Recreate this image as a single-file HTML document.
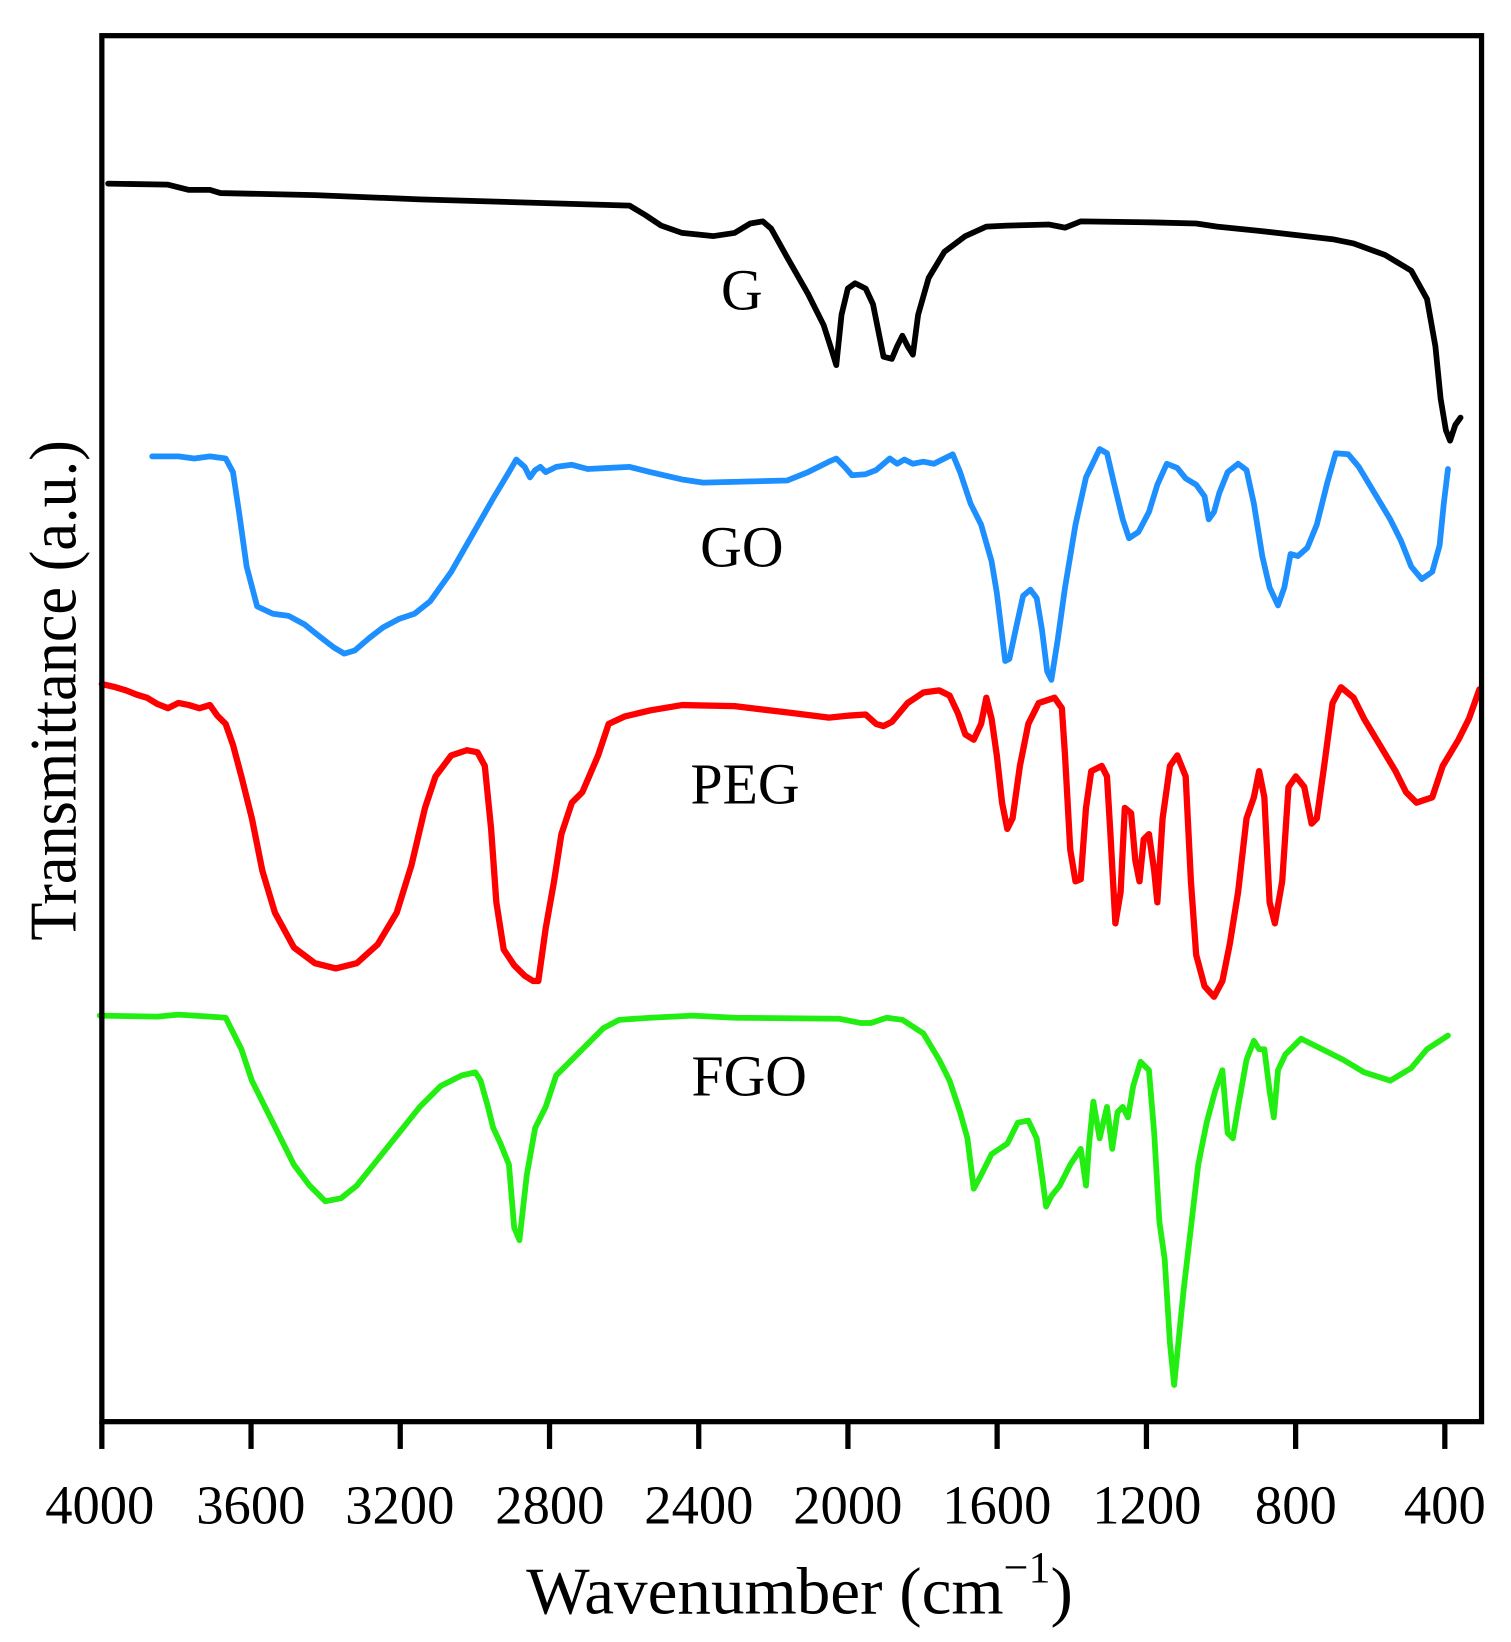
<!DOCTYPE html>
<html><head><meta charset="utf-8"><style>html,body{margin:0;padding:0;background:#fff}svg{display:block}</style></head>
<body>
<svg width="1511" height="1642" viewBox="0 0 1440 1565" xmlns="http://www.w3.org/2000/svg" font-family="'Liberation Serif', serif">
<rect x="0" y="0" width="1440" height="1565" fill="#fff"/>
<g fill="none" stroke-linejoin="round" stroke-linecap="round" stroke-width="5.5">
<polyline stroke="#000" points="103,175 160,176 180,181 200,181 210,184 300,186 400,190 500,193 600,196 615,205 630,215 650,222 680,225 700,222 715,213 727,211 735,218 750,245 770,280 785,310 793,335 797,348 802,300 808,275 815,270 825,275 832,290 838,320 842,340 850,342 855,330 860,320 865,330 870,338 875,300 885,265 900,240 920,225 940,216 960,215 1000,214 1010,216 1015,217 1030,211 1100,212 1140,213 1160,216 1200,220 1270,228 1290,232 1320,243 1345,258 1360,285 1368,330 1373,380 1378,410 1382,420 1387,405 1392,398"/>
<polyline stroke="#1e8fff" points="145,435 170,435 185,437 200,435 215,437 222,450 228,490 235,540 245,578 260,585 275,587 290,595 305,607 318,617 328,623 338,620 352,608 365,598 380,590 395,585 410,573 430,545 450,510 470,475 485,450 492,438 500,445 505,455 510,448 515,445 520,450 530,445 545,443 560,447 580,446 600,445 620,450 650,457 670,460 750,458 770,450 790,440 797,437 805,445 812,453 825,452 835,448 848,437 855,442 862,438 870,442 880,440 890,442 900,437 908,433 915,450 925,480 935,500 945,535 950,565 958,630 962,628 968,600 975,568 982,562 988,570 993,600 998,640 1002,648 1008,610 1015,560 1025,500 1035,455 1048,428 1055,432 1062,462 1070,495 1076,513 1085,507 1095,488 1103,462 1112,442 1122,446 1130,456 1140,462 1148,473 1152,495 1157,488 1162,470 1170,450 1180,442 1188,448 1195,480 1203,530 1210,560 1218,577 1224,560 1230,528 1237,530 1246,522 1255,500 1265,460 1273,432 1285,433 1295,445 1310,470 1325,495 1335,515 1345,540 1355,552 1365,545 1372,520 1376,480 1380,447"/>
<polyline stroke="#ff0000" stroke-width="6" points="97,652 110,655 120,658 130,662 140,665 150,671 160,675 170,670 180,672 190,675 200,672 207,682 215,690 222,710 230,740 240,780 250,830 262,870 280,903 300,918 320,923 340,918 360,900 378,870 392,825 405,770 415,740 430,720 445,715 455,717 462,730 468,790 473,860 480,905 490,920 500,930 508,935 513,935 520,885 528,840 535,795 545,765 555,755 570,720 580,690 595,683 620,677 650,672 700,673 750,679 790,684 810,682 825,681 835,690 842,692 850,688 865,670 880,660 895,658 905,663 913,680 920,700 928,705 935,690 940,665 945,685 950,720 955,765 960,790 965,780 972,730 980,690 990,670 1005,665 1012,675 1015,720 1020,810 1025,840 1030,838 1035,770 1040,735 1050,730 1055,740 1058,790 1063,880 1068,850 1072,770 1078,775 1082,820 1086,840 1090,800 1095,795 1100,830 1103,860 1108,780 1115,730 1122,720 1130,740 1135,840 1140,910 1148,940 1157,950 1165,935 1172,900 1180,850 1188,780 1195,760 1200,735 1205,760 1210,860 1215,880 1222,840 1228,750 1235,740 1243,750 1250,785 1255,780 1262,730 1270,670 1278,655 1290,665 1300,685 1315,710 1330,735 1340,755 1350,765 1365,760 1375,730 1390,705 1400,685 1410,657"/>
<polyline stroke="#22ee11" points="95,968 150,969 170,967 200,969 215,970 220,980 230,1000 240,1030 250,1050 265,1080 280,1110 295,1130 310,1145 325,1142 340,1130 360,1105 380,1080 400,1055 420,1035 440,1025 453,1022 458,1030 465,1055 470,1075 477,1090 485,1110 490,1170 495,1182 502,1120 510,1075 520,1055 530,1025 545,1010 560,995 575,980 590,972 620,970 660,968 700,970 800,971 820,975 830,975 845,970 860,972 880,985 895,1010 905,1030 915,1060 922,1085 928,1133 935,1120 945,1100 960,1090 970,1070 980,1068 988,1085 993,1120 997,1150 1002,1140 1010,1130 1020,1110 1030,1095 1035,1130 1038,1090 1042,1050 1048,1085 1055,1055 1060,1095 1065,1060 1070,1055 1075,1065 1080,1035 1087,1012 1095,1020 1100,1080 1105,1165 1110,1200 1115,1280 1119,1320 1123,1280 1128,1230 1135,1170 1142,1110 1150,1070 1158,1040 1165,1020 1170,1080 1175,1085 1180,1055 1188,1010 1195,992 1200,1000 1205,1000 1210,1040 1214,1065 1218,1020 1225,1005 1240,990 1260,1000 1280,1010 1300,1022 1325,1030 1345,1018 1360,1000 1380,987"/>
</g>
<g stroke="#000" stroke-width="5" fill="none">
<rect x="97" y="34" width="1315" height="1321"/>
<line x1="97" y1="1355" x2="97" y2="1381"/>
<line x1="239.2" y1="1355" x2="239.2" y2="1381"/>
<line x1="381.4" y1="1355" x2="381.4" y2="1381"/>
<line x1="523.7" y1="1355" x2="523.7" y2="1381"/>
<line x1="665.9" y1="1355" x2="665.9" y2="1381"/>
<line x1="808.1" y1="1355" x2="808.1" y2="1381"/>
<line x1="950.3" y1="1355" x2="950.3" y2="1381"/>
<line x1="1092.6" y1="1355" x2="1092.6" y2="1381"/>
<line x1="1234.8" y1="1355" x2="1234.8" y2="1381"/>
<line x1="1377" y1="1355" x2="1377" y2="1381"/>
</g>
<g font-size="52" text-anchor="middle" fill="#000">
<text x="95" y="1452">4000</text>
<text x="239" y="1452">3600</text>
<text x="381" y="1452">3200</text>
<text x="524" y="1452">2800</text>
<text x="666" y="1452">2400</text>
<text x="808" y="1452">2000</text>
<text x="950" y="1452">1600</text>
<text x="1093" y="1452">1200</text>
<text x="1235" y="1452">800</text>
<text x="1377" y="1452">400</text>
</g>
<g font-size="55" text-anchor="middle" fill="#000">
<text x="707" y="295">G</text>
<text x="707" y="540">GO</text>
<text x="710" y="766">PEG</text>
<text x="714" y="1044">FGO</text>
</g>
<text x="762" y="1538" font-size="64" text-anchor="middle">Wavenumber (cm<tspan font-size="42" dy="-30">−1</tspan><tspan dy="30">)</tspan></text>
<text transform="translate(72,658) rotate(-90)" font-size="64" text-anchor="middle" textLength="477" lengthAdjust="spacingAndGlyphs">Transmittance (a.u.)</text>
</svg>
</body></html>
